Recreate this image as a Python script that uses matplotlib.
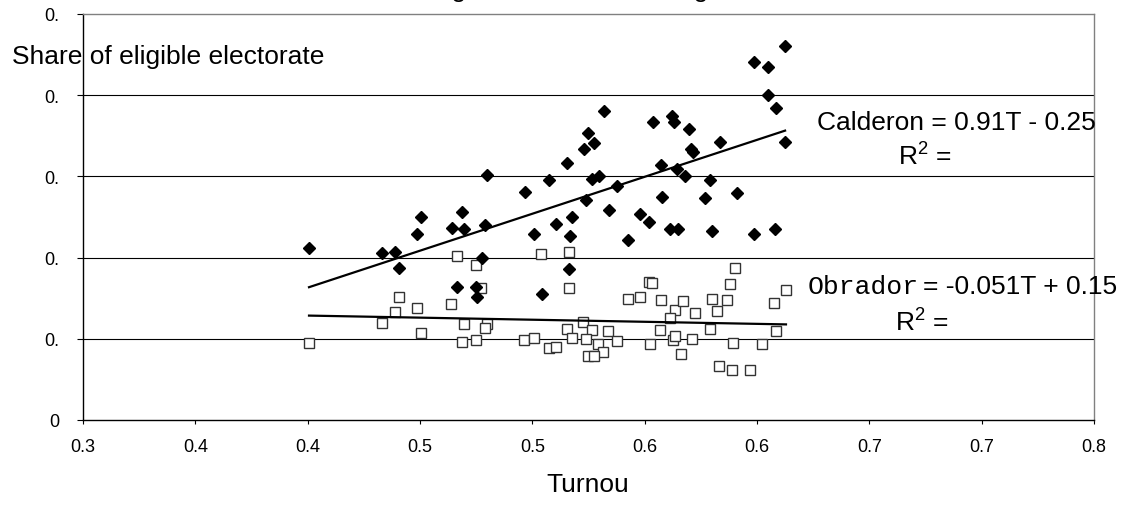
import matplotlib
matplotlib.use('Agg')
import matplotlib.pyplot as plt
import numpy as np

# Calderon share vs turnout (filled diamonds)
calderon_t = [0.4006, 0.4331, 0.4389, 0.4407, 0.4487, 0.4504, 0.4642, 0.4687, 0.4696, 0.4789,
              0.4776, 0.4665, 0.4749, 0.4754, 0.5007, 0.5105, 0.5177, 0.5168, 0.5163, 0.5043,
              0.5239, 0.5341, 0.5426, 0.5479, 0.5519, 0.4798, 0.4967, 0.5074, 0.5154, 0.5230,
              0.5248, 0.5275, 0.5266, 0.5297, 0.5319, 0.5377, 0.5537, 0.5573, 0.5577, 0.5622,
              0.5631, 0.5644, 0.5613, 0.5648,
              0.5698, 0.5707, 0.5716, 0.5768, 0.5790, 0.5799, 0.5835, 0.5911, 0.5987, 0.5987,
              0.6049, 0.6080, 0.6049, 0.6125, 0.6085, 0.6125, 0.5680]
calderon_y = [0.2118, 0.2057, 0.2069, 0.1872, 0.2291, 0.2500, 0.2365, 0.2562, 0.2352, 0.2401,
              0.1995, 0.1638, 0.1638, 0.1515, 0.2291, 0.2414, 0.2500, 0.2266, 0.1860, 0.1552,
              0.2709, 0.2586, 0.2217, 0.2537, 0.2438, 0.3017, 0.2808, 0.2956, 0.3165, 0.3337,
              0.3534, 0.3411, 0.2968, 0.3005, 0.3805, 0.2882, 0.3670, 0.3140, 0.2746, 0.3744,
              0.3670, 0.3091, 0.2352, 0.2352,
              0.3584, 0.3337, 0.3300, 0.2734, 0.2956, 0.2328, 0.3424, 0.2796, 0.2291, 0.4414,
              0.4346, 0.2352, 0.4000, 0.4601, 0.3842, 0.3424, 0.3000]

# Obrador share vs turnout (open squares)
obrador_t = [0.4006, 0.4331, 0.4389, 0.4407, 0.4487, 0.4504, 0.4638, 0.4665, 0.4749, 0.4772,
             0.4696, 0.4798, 0.4789, 0.4687, 0.4749, 0.4963, 0.5007, 0.5039, 0.5074, 0.5105,
             0.5163, 0.5163, 0.5154, 0.5177, 0.5226, 0.5266, 0.5239, 0.5292, 0.5315, 0.5248,
             0.5275, 0.5337, 0.5377, 0.5426, 0.5479, 0.5519, 0.5524,
             0.5533, 0.5573, 0.5635, 0.5568, 0.5613, 0.5626, 0.5635, 0.5662, 0.5671, 0.5711,
             0.5724, 0.5791, 0.5800, 0.5822, 0.5831, 0.5867, 0.5880, 0.5889, 0.5893, 0.5902,
             0.5969, 0.6022, 0.6076, 0.6085, 0.6129]
obrador_y = [0.0948, 0.1195, 0.1330, 0.1515, 0.1379, 0.1071, 0.1429, 0.2020, 0.1909, 0.1626,
             0.1182, 0.1182, 0.1133, 0.0961, 0.0985, 0.0985, 0.1010, 0.2044, 0.0887, 0.0899,
             0.2069, 0.1626, 0.1121, 0.1010, 0.1207, 0.1108, 0.0998, 0.0936, 0.0837, 0.0788,
             0.0788, 0.1096, 0.0973, 0.1490, 0.1515, 0.1700, 0.0936,
             0.1687, 0.1478, 0.1354, 0.1108, 0.1256, 0.0985, 0.1034, 0.0813, 0.1466, 0.0998,
             0.1318, 0.1120, 0.1490, 0.1342, 0.0665, 0.1478, 0.1675, 0.0616, 0.0948, 0.1872,
             0.0616, 0.0936, 0.1440, 0.1100, 0.1600]

# trendlines as drawn (slope, intercept)
calderon_fit = (0.91, -0.201)
obrador_fit = (-0.051, 0.149)

x_ticks = [0.30, 0.35, 0.40, 0.45, 0.50, 0.55, 0.60, 0.65, 0.70, 0.75]
x_labels = ['0.3', '0.4', '0.4', '0.5', '0.5', '0.6', '0.6', '0.7', '0.7', '0.8']
y_ticks = [0.0, 0.1, 0.2, 0.3, 0.4, 0.5]
y_labels = ['0', '0.', '0.', '0.', '0.', '0.']

plt.rcParams['font.family'] = ['Liberation Sans', 'DejaVu Sans']

fig = plt.figure(figsize=(11.3, 5.06), dpi=100)
ax = fig.add_axes([83/1130, 1 - 421/506, (1094 - 83)/1130, (421 - 15)/506])

ax.set_xlim(0.30, 0.75)
ax.set_ylim(0.0, 0.5)
ax.set_xticks(x_ticks)
ax.set_xticklabels(x_labels, fontsize=13)
ax.set_yticks(y_ticks)
ax.set_yticklabels(y_labels, fontsize=13)
ax.tick_params(axis='y', direction='out', length=4.3, width=0.8, pad=13)
ax.tick_params(axis='x', direction='out', length=3.0, width=0.8, pad=10)

for y in y_ticks[1:-1]:
    ax.axhline(y, color='black', lw=0.8, zorder=1)
ax.spines['top'].set_color('#808080')
ax.spines['right'].set_color('#808080')
ax.spines['left'].set_color('black')
ax.spines['bottom'].set_color('black')
for s in ax.spines.values():
    s.set_linewidth(1.0)
    s.set_zorder(5)

ax.plot(obrador_t, obrador_y, 's', ms=6.8, mfc='white', mec='#333333', mew=1.0, zorder=3)
ax.plot(calderon_t, calderon_y, 'D', ms=6.3, mfc='black', mec='black', zorder=3)

tl = np.array([min(calderon_t), max(calderon_t)])
ax.plot(tl, calderon_fit[0]*tl + calderon_fit[1], color='black', lw=1.6, zorder=4)
to = np.array([min(obrador_t), max(obrador_t)])
ax.plot(to, obrador_fit[0]*to + obrador_fit[1], color='black', lw=1.6, zorder=4)

big = 19
# chart title sits mostly above the top edge, only descenders show
fig.text(318/1130, 1 + 2.5/506, 'Share of eligible electorate voting for each candidate',
         fontsize=big, va='baseline', ha='left')
fig.text(12/1130, 1 - 57/506, 'Share of eligible electorate', fontsize=big, va='center', ha='left')
fig.text(588/1130, 1 - 485/506, 'Turnou', fontsize=big, va='center', ha='center')

fig.text(817/1130, 1 - 130/506, 'Calderon = 0.91T - 0.25', fontsize=big, va='baseline', ha='left')
fig.text(898/1130, 1 - 165/506, r'R$^{\mathregular{2}}$ =', fontsize=big, va='baseline', ha='left')

fig.text(808/1130, 1 - 294/506, 'Obrador', fontsize=big, va='baseline', ha='left',
         family='Liberation Mono')
fig.text(923/1130, 1 - 294/506, '= -0.051T + 0.15', fontsize=big, va='baseline', ha='left')
fig.text(895/1130, 1 - 331/506, r'R$^{\mathregular{2}}$ =', fontsize=big, va='baseline', ha='left')

fig.savefig('out.png', dpi=100)
